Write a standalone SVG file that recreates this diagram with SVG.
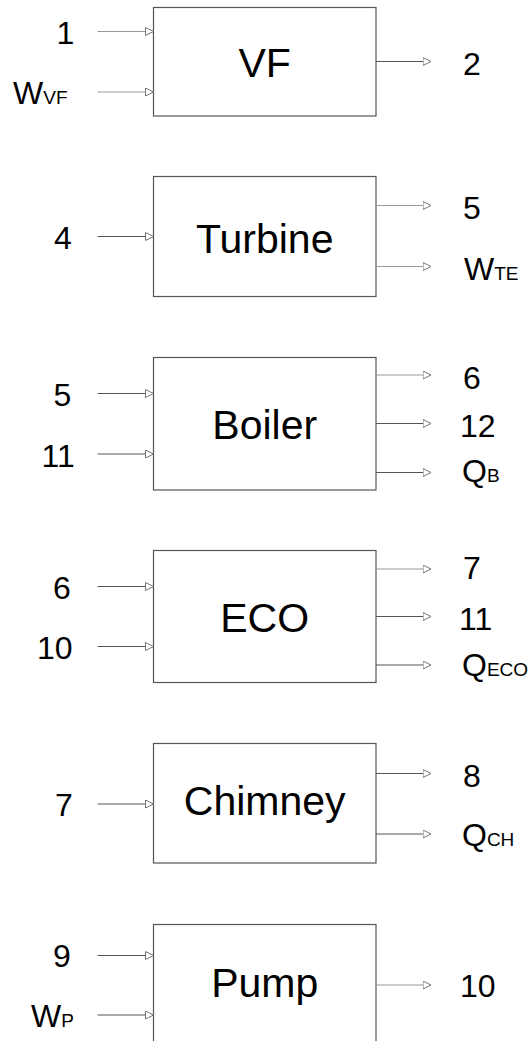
<svg xmlns="http://www.w3.org/2000/svg" width="529" height="1041" viewBox="0 0 529 1041">
<style>
.box{fill:#fff;stroke:#555;stroke-width:1.2}
.t{font-family:"Liberation Sans",Arial,sans-serif;font-size:41px;fill:#000;text-anchor:middle}
.l{font-family:"Liberation Sans",Arial,sans-serif;font-size:32px;fill:#000}
.s{font-size:19px}
.c line{stroke:#555;stroke-width:1;marker-end:url(#arr)}
.c line.lt{stroke:#999}
</style>
<defs>
<marker id="arr" markerUnits="userSpaceOnUse" markerWidth="10" markerHeight="10" refX="8.5" refY="4.5" orient="auto">
<path d="M0.5,0.5 L8.5,4.5 L0.5,8.5 Z" fill="#fff" stroke="#777" stroke-width="1"/>
</marker>
</defs>
<rect width="529" height="1041" fill="#fff"/>

<g id="VF">
<rect class="box" x="153.5" y="7.5" width="222.5" height="108.5"/>
<text class="t" x="264.7" y="77">VF</text>
</g>
<g id="Turbine">
<rect class="box" x="153.5" y="176.5" width="222.5" height="120"/>
<text class="t" x="264.7" y="252.5">Turbine</text>
</g>
<g id="Boiler">
<rect class="box" x="153.5" y="357.5" width="222.5" height="132.5"/>
<text class="t" x="264.7" y="439">Boiler</text>
</g>
<g id="ECO">
<rect class="box" x="153.5" y="550.5" width="222.5" height="132"/>
<text class="t" x="264.7" y="632">ECO</text>
</g>
<g id="Chimney">
<rect class="box" x="153.5" y="743.5" width="222.5" height="119.5"/>
<text class="t" x="264.7" y="815">Chimney</text>
</g>
<g id="Pump">
<rect class="box" x="153.5" y="924.5" width="222.5" height="140"/>
<text class="t" x="264.7" y="996.5">Pump</text>
</g>

<g id="connectors" class="c">
<line class="lt" x1="97.5" y1="31.5" x2="153.5" y2="31.5"/>
<line class="lt" x1="97.5" y1="92" x2="153.5" y2="92"/>
<line x1="376" y1="61.5" x2="431" y2="61.5"/>

<line x1="97.5" y1="236.5" x2="153.5" y2="236.5"/>
<line class="lt" x1="376" y1="205.5" x2="431" y2="205.5"/>
<line class="lt" x1="376" y1="266.5" x2="431" y2="266.5"/>

<line x1="97.5" y1="393.5" x2="153.5" y2="393.5"/>
<line x1="97.5" y1="454" x2="153.5" y2="454"/>
<line class="lt" x1="376" y1="375" x2="431" y2="375"/>
<line x1="376" y1="423.5" x2="431" y2="423.5"/>
<line x1="376" y1="472.5" x2="431" y2="472.5"/>

<line x1="97.5" y1="586.5" x2="153.5" y2="586.5"/>
<line x1="97.5" y1="646.5" x2="153.5" y2="646.5"/>
<line class="lt" x1="376" y1="569" x2="431" y2="569"/>
<line x1="376" y1="616.5" x2="431" y2="616.5"/>
<line x1="376" y1="665" x2="431" y2="665"/>

<line x1="97.5" y1="804" x2="153.5" y2="804"/>
<line x1="376" y1="773.5" x2="431" y2="773.5"/>
<line x1="376" y1="834" x2="431" y2="834"/>

<line x1="97.5" y1="955.5" x2="153.5" y2="955.5"/>
<line x1="97.5" y1="1015" x2="153.5" y2="1015"/>
<line class="lt" x1="376" y1="985" x2="431" y2="985"/>
</g>

<g id="labels">
<text class="l" x="56.5" y="43.5">1</text>
<text class="l" x="13" y="103.5">W<tspan class="s">VF</tspan></text>
<text class="l" x="463" y="75">2</text>

<text class="l" x="54" y="249">4</text>
<text class="l" x="463" y="219">5</text>
<text class="l" x="464" y="279.5">W<tspan class="s">TE</tspan></text>

<text class="l" x="53.5" y="406">5</text>
<text class="l" x="41.5" y="466.5">11</text>
<text class="l" x="463" y="388.5">6</text>
<text class="l" x="460" y="436.5">12</text>
<text class="l" x="462" y="482">Q<tspan class="s">B</tspan></text>

<text class="l" x="53" y="599">6</text>
<text class="l" x="37" y="659">10</text>
<text class="l" x="463" y="579">7</text>
<text class="l" x="459" y="630">11</text>
<text class="l" x="462" y="676">Q<tspan class="s">ECO</tspan></text>

<text class="l" x="55" y="816">7</text>
<text class="l" x="463" y="786.5">8</text>
<text class="l" x="462" y="846">Q<tspan class="s">CH</tspan></text>

<text class="l" x="53" y="967">9</text>
<text class="l" x="31" y="1026.5">W<tspan class="s">P</tspan></text>
<text class="l" x="460" y="997">10</text>
</g>
</svg>
